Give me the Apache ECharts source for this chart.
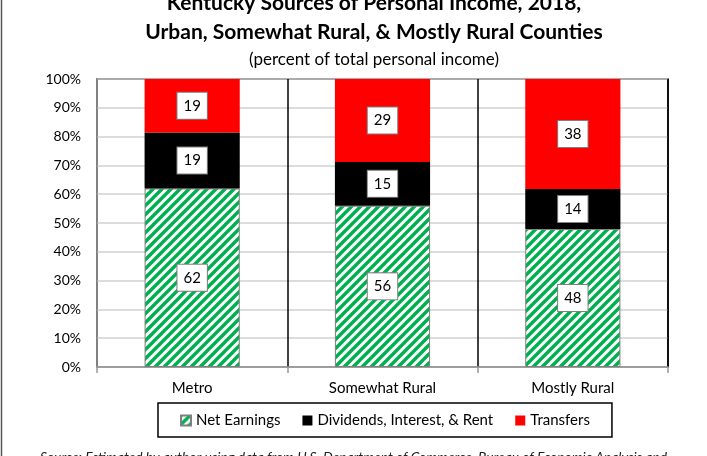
<!DOCTYPE html>
<html>
<head>
<meta charset="utf-8">
<script src="https://cdn.jsdelivr.net/npm/echarts@6/dist/echarts.min.js"></script>
<style>
  html, body { margin: 0; padding: 0; background: #fff; }
  #chart { width: 707px; height: 456px; }
</style>
</head>
<body>
<div id="chart"></div>
<script>
// categories and values (percent of total personal income)
var categories = ['Metro', 'Somewhat Rural', 'Mostly Rural']
var netEarnings = [62.0, 56.0, 47.9]
var dividends = [19.4, 15.2, 13.9]
var transfers = [18.6, 28.8, 38.2]
var yTicks = [0, 10, 20, 30, 40, 50, 60, 70, 80, 90, 100]

var FONT = 'Lato, "Open Sans", sans-serif'

// green diagonal hatch like the Excel pattern fill
function makeHatch() {
  var size = 9
  var c = document.createElement('canvas')
  c.width = size
  c.height = size
  var ctx = c.getContext('2d')
  ctx.fillStyle = '#fff'
  ctx.fillRect(0, 0, size, size)
  ctx.strokeStyle = '#00b050'
  ctx.lineWidth = 3.4
  ctx.beginPath()
  ctx.moveTo(-1, size + 1)
  ctx.lineTo(size + 1, -1)
  ctx.moveTo(-2, 2)
  ctx.lineTo(2, -2)
  ctx.moveTo(size - 2, size + 2)
  ctx.lineTo(size + 2, size - 2)
  ctx.stroke()
  return c
}

var hatch = { image: makeHatch(), repeat: 'repeat' }

var segLabel = {
  show: true,
  position: 'inside',
  backgroundColor: '#fff',
  borderColor: '#7f7f7f',
  borderWidth: 1,
  padding: [4, 6],
  fontSize: 15,
  lineHeight: 18,
  fontFamily: FONT,
  color: '#000',
  formatter: function (p) { return Math.round(p.value) }
}

var myChart = echarts.init(document.getElementById('chart'))

var option = {
  backgroundColor: '#fff',
  animation: false,
  title: [{
    text: 'Kentucky Sources of Personal Income, 2018,\nUrban, Somewhat Rural, & Mostly Rural Counties',
    left: 369,
    textAlign: 'center',
    top: -16,
    textStyle: { fontFamily: FONT, fontWeight: 'bold', fontSize: 21, lineHeight: 29, color: '#000' }
  }, {
    text: '(percent of total personal income)',
    left: 369,
    textAlign: 'center',
    top: 46,
    textStyle: { fontFamily: FONT, fontWeight: 'normal', fontSize: 17, color: '#000' }
  }, {
    text: 'Source: Estimated by author using data from U.S. Department of Commerce, Bureau of Economic Analysis and',
    left: 'center',
    top: 446,
    textStyle: { fontFamily: FONT, fontWeight: 'normal', fontStyle: 'italic', fontSize: 13.8, color: '#222' }
  }],
  graphic: [{
    type: 'line',
    shape: { x1: 1.5, y1: 0, x2: 1.5, y2: 456 },
    style: { stroke: '#555', lineWidth: 1.5 }
  }],
  legend: {
    data: ['Net Earnings', 'Dividends, Interest, & Rent', 'Transfers'],
    left: 158,
    top: 403,
    width: 453,
    padding: [10, 22, 9, 22],
    borderColor: '#000',
    borderWidth: 1.5,
    itemWidth: 10,
    itemHeight: 10,
    itemGap: 22,
    icon: 'rect',
    textStyle: { fontFamily: FONT, fontSize: 15, color: '#000' }
  },
  grid: {
    left: 97,
    right: 39,
    top: 79,
    bottom: 89,
    show: true,
    borderColor: '#000',
    borderWidth: 1.5,
    containLabel: false
  },
  xAxis: {
    type: 'category',
    data: categories,
    axisLine: { lineStyle: { color: '#999', width: 1.5 } },
    axisTick: { show: true, length: 6, lineStyle: { color: '#999', width: 1.5 } },
    axisLabel: { fontFamily: FONT, fontSize: 15, color: '#000', margin: 14 },
    splitLine: {
      show: true,
      interval: function (index) { return index !== 0 },
      lineStyle: { color: '#000', width: 1.5 }
    }
  },
  yAxis: {
    type: 'value',
    min: yTicks[0],
    max: yTicks[yTicks.length - 1],
    interval: 10,
    axisLine: { show: true, lineStyle: { color: '#999', width: 1.5 } },
    axisTick: { show: false },
    axisLabel: { fontFamily: FONT, fontSize: 14, color: '#000', margin: 16, formatter: '{value}%' },
    splitLine: { show: true, lineStyle: { color: '#d0d0d0', width: 1.5 } }
  },
  series: [{
    name: 'Net Earnings',
    type: 'bar',
    stack: 'total',
    barWidth: '50%',
    data: netEarnings,
    itemStyle: { color: hatch, borderColor: '#7f7f7f', borderWidth: 1 },
    label: segLabel
  }, {
    name: 'Dividends, Interest, & Rent',
    type: 'bar',
    stack: 'total',
    data: dividends,
    itemStyle: { color: '#000' },
    label: segLabel
  }, {
    name: 'Transfers',
    type: 'bar',
    stack: 'total',
    data: transfers,
    itemStyle: { color: '#ff0000' },
    label: segLabel
  }]
}

myChart.setOption(option)
</script>
</body>
</html>
